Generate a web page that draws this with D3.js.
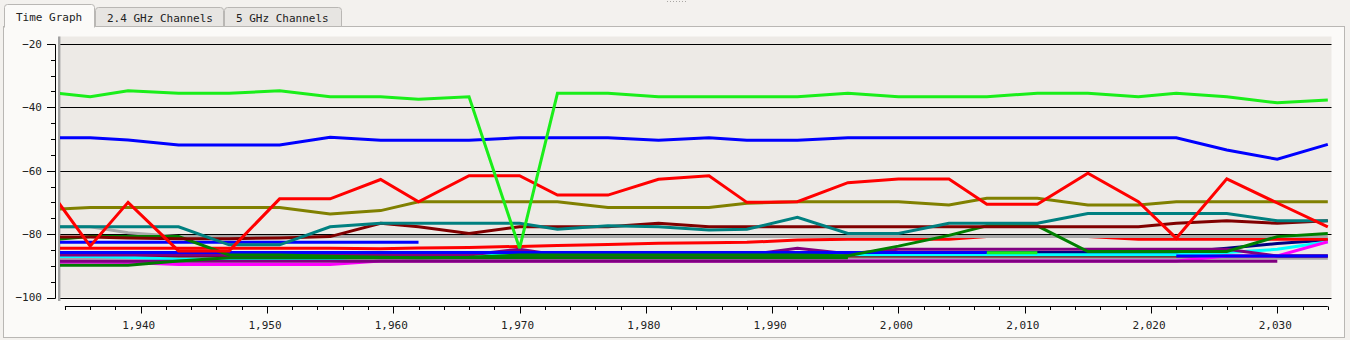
<!DOCTYPE html>
<html>
<head>
<meta charset="utf-8">
<script src="https://cdn.jsdelivr.net/npm/d3@7/dist/d3.min.js"></script>
<style>
  html, body { margin: 0; padding: 0; background: #f3f1ee; }
  svg { display: block; }
  text { font-family: "DejaVu Sans Mono", monospace; }
</style>
</head>
<body>
<svg id="chart" width="1350" height="340"></svg>
<script>
// Sample times (x) shared by every series
const times = [1933.5, 1936, 1939, 1943, 1947, 1951, 1955, 1959, 1962, 1966, 1970, 1973, 1977, 1981,
               1985, 1988, 1992, 1996, 2000, 2004, 2007, 2011, 2015, 2019, 2022, 2026, 2030, 2034];

// Signal levels (dBm); null = no reading
const limeTop    = [-35.6, -36.7, -34.8, -35.6, -35.6, -34.8, -36.7, -36.7, -37.5, -36.7, -84.5, -35.6, -35.6, -36.7,
                    -36.7, -36.7, -36.7, -35.6, -36.7, -36.7, -36.7, -35.6, -35.6, -36.7, -35.6, -36.7, -38.6, -37.7];
const blueTop    = [-49.6, -49.6, -50.3, -51.9, -51.9, -51.9, -49.5, -50.4, -50.4, -50.4, -49.6, -49.6, -49.6, -50.4,
                    -49.6, -50.4, -50.4, -49.6, -49.6, -49.6, -49.6, -49.6, -49.6, -49.6, -49.6, -53.5, -56.4, -51.7];
const redJagged  = [-70.1, -83.8, -70.0, -85.3, -85.3, -68.9, -68.9, -62.8, -69.8, -61.6, -61.6, -67.7, -67.7, -62.7,
                    -61.6, -70.0, -69.8, -63.8, -62.6, -62.6, -70.6, -70.6, -60.8, -69.8, -81.3, -62.6, -70.2, -77.7];
const olive      = [-72.1, -71.6, -71.6, -71.6, -71.6, -71.6, -73.7, -72.6, -69.8, -69.8, -69.8, -69.8, -71.6, -71.6,
                    -71.6, -70.3, -69.8, -69.8, -69.8, -70.8, -68.7, -68.7, -70.8, -70.8, -69.8, -69.8, -69.8, -69.8];
const teal       = [-77.7, -77.7, -77.7, -77.7, -83.4, -83.4, -77.7, -76.6, -76.6, -76.6, -76.6, -78.5, -77.4, -77.7,
                    -78.7, -78.5, -74.7, -79.8, -79.8, -76.6, -76.6, -76.6, -73.5, -73.5, -73.5, -73.5, -75.8, -75.8];
const maroon     = [-80.9, -80.9, -81.2, -81.5, -81.5, -81.2, -80.8, -76.6, -77.7, -79.8, -77.7, -77.7, -77.7, -76.6,
                    -77.7, -77.7, -77.7, -77.7, -77.7, -77.7, -77.7, -77.7, -77.7, -77.7, -76.6, -75.8, -76.6, -75.8];
const grayLine   = [-77.7, -77.7, -79.6, -80.8, -80.8, -80.8, -80.8, -80.8, -80.8, -80.8, -80.8, -80.8, -80.8, -80.8,
                    -80.8, -80.8, -80.8, -80.8, -80.8, -80.8, -80.8, -80.8, -80.8, -80.8, -80.8, -80.8, -80.8, -80.8];
const darkGreen  = [-81.6, -80.8, -80.8, -80.8, -86.6, -86.6, -87.0, -87.3, -87.5, -87.3, -86.6, -86.6, -86.6, -86.6,
                    -86.6, -86.6, -86.6, -86.8, -83.8, -80.4, -77.4, -77.4, -85.5, -85.5, -85.5, -85.5, -80.8, -79.8];
const blueShort  = [-82.6, -82.6, -82.6, -82.6, -82.6, -82.6, -82.6, -82.6, -82.6, null, null, null, null, null,
                    null, null, null, null, null, null, null, null, null, null, null, null, null, null];
const redLower   = [-84.5, -84.5, -84.5, -84.5, -84.5, -84.5, -84.5, -84.6, -84.4, -84.2, -83.9, -83.6, -83.3, -82.9,
                    -82.7, -82.6, -81.9, -81.6, -81.6, -81.6, -80.8, -80.8, -80.8, -81.6, -81.6, -81.6, -81.6, -81.6];
const blueLong   = [-85.8, -85.8, -85.8, -85.8, -85.8, -85.8, -85.8, -85.8, -85.8, -85.8, -85.8, -85.8, -85.8, -85.8,
                    -85.8, -85.8, -85.8, -85.8, -85.8, -85.8, -85.8, null, null, null, null, null, null, null];
const limeShort  = [null, null, null, null, null, null, null, null, null, null, null, null, null, null,
                    null, null, null, null, null, null, -85.9, -85.9, null, null, null, null, null, null];
const navy       = [-85.8, -85.8, -85.8, -85.8, -85.8, -85.8, -85.8, -85.8, -85.8, -85.8, -85.8, -85.8, -85.8, -85.8,
                    -85.8, -85.8, -85.8, -85.8, -85.8, -85.8, -85.8, -85.8, -85.8, -85.8, -85.8, -84.5, -83.0, -81.9];
const cyan       = [-87.1, -87.1, -87.3, -87.9, -87.9, -87.9, -87.9, -86.5, -86.5, -86.5, -86.5, -86.5, -86.5, -86.5,
                    -86.5, -86.5, -86.5, -86.5, -86.5, -86.5, -86.5, -86.5, -86.5, -86.5, -86.5, -85.8, -84.8, -82.4];
const magenta    = [-88.9, -88.9, -89.0, -89.6, -89.6, -89.6, -89.6, -88.5, -88.5, -88.5, -88.5, -88.5, -88.5, -88.5,
                    -88.5, -88.5, -88.5, -88.5, -88.5, -88.5, -88.5, -88.5, -88.5, -88.5, -88.5, -86.9, -86.9, -82.4];
const purpleLow  = [-88.6, -88.6, -88.6, -88.6, -88.6, -88.6, -88.6, -88.6, -88.6, -88.6, -88.6, -88.6, -88.6, -88.6,
                    -88.6, -88.6, -88.6, -88.6, -88.6, -88.6, -88.6, -88.6, -88.6, -88.6, -88.6, -88.6, -88.6, null];
const purpleUp   = [-86.6, -86.6, -86.6, -86.6, -86.6, -86.6, -86.6, -86.6, -86.6, -86.6, -84.8, -86.6, -86.6, -86.6,
                    -86.6, -86.6, -84.5, -86.2, -84.8, -84.8, -84.8, -84.8, -84.8, -84.8, -84.8, -84.8, -86.9, -86.9];
const greenLow   = [-89.8, -89.8, -89.8, -88.5, -87.5, -87.5, -87.5, -87.5, -87.5, -87.5, -87.5, -87.5, -87.5, -87.5,
                    -87.5, -87.5, -87.5, -87.5, null, null, null, null, null, null, null, null, null, null];
const maroonLow  = [-86.9, -86.9, -86.9, -86.9, -86.9, -86.9, -86.9, -86.9, -86.9, -86.9, -86.9, -86.9, -86.9, -86.9,
                    -86.9, -86.9, -86.9, -86.9, -86.9, -86.9, -86.9, -86.9, -86.9, -86.9, -86.9, -86.9, -86.9, -86.9];
const grayLow    = [-87.6, -87.6, -87.6, -87.6, -87.6, -87.6, -87.6, -87.6, -87.6, -87.6, -87.6, -87.6, -87.6, -87.6,
                    -87.6, -87.6, -87.6, -87.6, -87.6, -87.6, -87.6, -87.6, -87.6, -87.6, -87.6, -87.6, -87.6, -87.6];
const blueLate   = [null, null, null, null, null, null, null, null, null, null, null, null, null, null,
                    null, null, null, null, null, null, null, null, null, null, -86.9, -86.9, -86.9, -86.9];

// Axis ticks and tab captions
const yTicks = [-20, -40, -60, -80, -100];
const xMajorTicks = [1940, 1950, 1960, 1970, 1980, 1990, 2000, 2010, 2020, 2030];
const tabNames = ["Time Graph", "2.4 GHz Channels", "5 GHz Channels"];

// Drawing order: first entry lies underneath
const series = [
  { values: grayLow,   color: "#a4a0a8" },
  { values: maroonLow, color: "#800000" },
  { values: navy,      color: "#000080" },
  { values: cyan,      color: "#00ffff" },
  { values: magenta,   color: "#ff00ff" },
  { values: purpleLow, color: "#800080" },
  { values: greenLow,  color: "#007a00" },
  { values: purpleUp,  color: "#800080" },
  { values: blueLong,  color: "#0000ff" },
  { values: limeShort, color: "#1aee1a" },
  { values: blueLate,  color: "#0000ff" },
  { values: redLower,  color: "#ff0000" },
  { values: blueShort, color: "#0000ff" },
  { values: grayLine,  color: "#a8a8a8" },
  { values: darkGreen, color: "#008000" },
  { values: maroon,    color: "#800000" },
  { values: teal,      color: "#008080" },
  { values: olive,     color: "#808000" },
  { values: redJagged, color: "#ff0000" },
  { values: blueTop,   color: "#0000ff" },
  { values: limeTop,   color: "#1aee1a" }
];

const svg = d3.select("#chart");

// splitter grip
svg.append("g").selectAll("rect").data(d3.range(7)).join("rect")
  .attr("x", i => 667 + i * 3).attr("y", 1).attr("width", 1).attr("height", 1).attr("fill", "#a9a7a4");

// tab panel
svg.append("rect").attr("x", 3.5).attr("y", 26.5).attr("width", 1341).attr("height", 311)
  .attr("fill", "#fbfaf8").attr("stroke", "#b9b7b4");

// tabs
const tabs = [
  { x: 4, w: 90, y: 4, sel: true },
  { x: 95, w: 128, y: 7, sel: false },
  { x: 224, w: 117, y: 7, sel: false }
];
tabs.forEach((t, i) => {
  const x0 = t.x + 0.5, x1 = t.x + t.w + 0.5, y0 = t.y + 0.5, y1 = 26.5, r = 3;
  svg.append("path")
    .attr("d", `M${x0},${y1 + (t.sel ? 1 : 0)} L${x0},${y0 + r} Q${x0},${y0} ${x0 + r},${y0} L${x1 - r},${y0} Q${x1},${y0} ${x1},${y0 + r} L${x1},${y1 + (t.sel ? 1 : 0)}` + (t.sel ? "" : " Z"))
    .attr("fill", t.sel ? "#fbfaf8" : "#e7e5e2")
    .attr("stroke", "#b9b7b4");
  svg.append("text")
    .attr("x", t.x + 12).attr("y", t.sel ? 21 : 22)
    .attr("font-size", 11).attr("fill", "#222")
    .text(tabNames[i]);
});

// scales
const plotLeft = 59, plotRight = 1331.5, plotTop = 36.5;
const x = d3.scaleLinear().domain([1933.5, 2034.3]).range([58.6, 1331.6]);
const y = d3.scaleLinear().domain([-100, -20]).range([297.5, 43.8]);

// plot background
svg.append("rect").attr("x", plotLeft).attr("y", plotTop)
  .attr("width", plotRight - plotLeft).attr("height", y(-100) - plotTop)
  .attr("fill", "#edeae6");

// horizontal grid lines
svg.append("g").selectAll("line").data(yTicks).join("line")
  .attr("x1", plotLeft + 1).attr("x2", plotRight)
  .attr("y1", d => Math.round(y(d)) + 0.5).attr("y2", d => Math.round(y(d)) + 0.5)
  .attr("stroke", "#000").attr("stroke-width", 1);

// left plot border
svg.append("line").attr("x1", 59.2).attr("x2", 59.2).attr("y1", plotTop).attr("y2", 301)
  .attr("stroke", "#a3a3a3").attr("stroke-width", 2.4);

// y axis
const yAxis = svg.append("g");
yAxis.append("line").attr("x1", 55.5).attr("x2", 55.5)
  .attr("y1", Math.round(y(-20)) + 0.5).attr("y2", Math.round(y(-100)) + 0.5).attr("stroke", "#000");
yAxis.selectAll("line.tk").data(d3.range(-100, -19, 5)).join("line").attr("class", "tk")
  .attr("x1", d => d % 20 === 0 ? 47 : 51).attr("x2", 55.5)
  .attr("y1", d => Math.round(y(d)) + 0.5).attr("y2", d => Math.round(y(d)) + 0.5)
  .attr("stroke", "#000");
yAxis.selectAll("text").data(yTicks).join("text")
  .attr("x", 42).attr("y", d => y(d)).attr("dy", "0.35em")
  .attr("text-anchor", "end").attr("font-size", 11).attr("fill", "#222")
  .text(d => d3.format("d")(d));

// x axis
const xAxis = svg.append("g");
const axisY = 306.5;
xAxis.append("line").attr("x1", x(1934)).attr("x2", x(2034)).attr("y1", axisY).attr("y2", axisY).attr("stroke", "#000");
xAxis.selectAll("line.tk").data(d3.range(1934, 2035, 2)).join("line").attr("class", "tk")
  .attr("x1", d => Math.round(x(d)) + 0.5).attr("x2", d => Math.round(x(d)) + 0.5)
  .attr("y1", axisY).attr("y2", d => d % 10 === 0 ? 313.5 : 310)
  .attr("stroke", "#000");
xAxis.selectAll("text").data(xMajorTicks).join("text")
  .attr("x", d => x(d) - 2).attr("y", 329)
  .attr("text-anchor", "middle").attr("font-size", 11).attr("fill", "#222")
  .text(d => d3.format(",")(d));

// series lines
svg.append("clipPath").attr("id", "plotClip").append("rect")
  .attr("x", 60).attr("y", plotTop).attr("width", plotRight - 60).attr("height", y(-100) - plotTop);

const line = d3.line()
  .defined(d => d[1] != null)
  .x(d => x(d[0]))
  .y(d => y(d[1]));

svg.append("g").attr("clip-path", "url(#plotClip)")
  .selectAll("path").data(series).join("path")
  .attr("d", s => line(times.map((t, i) => [t, s.values[i]])))
  .attr("fill", "none")
  .attr("stroke", s => s.color)
  .attr("stroke-width", 3)
  .attr("stroke-linejoin", "miter")
  .attr("stroke-miterlimit", 3);
</script>
</body>
</html>
